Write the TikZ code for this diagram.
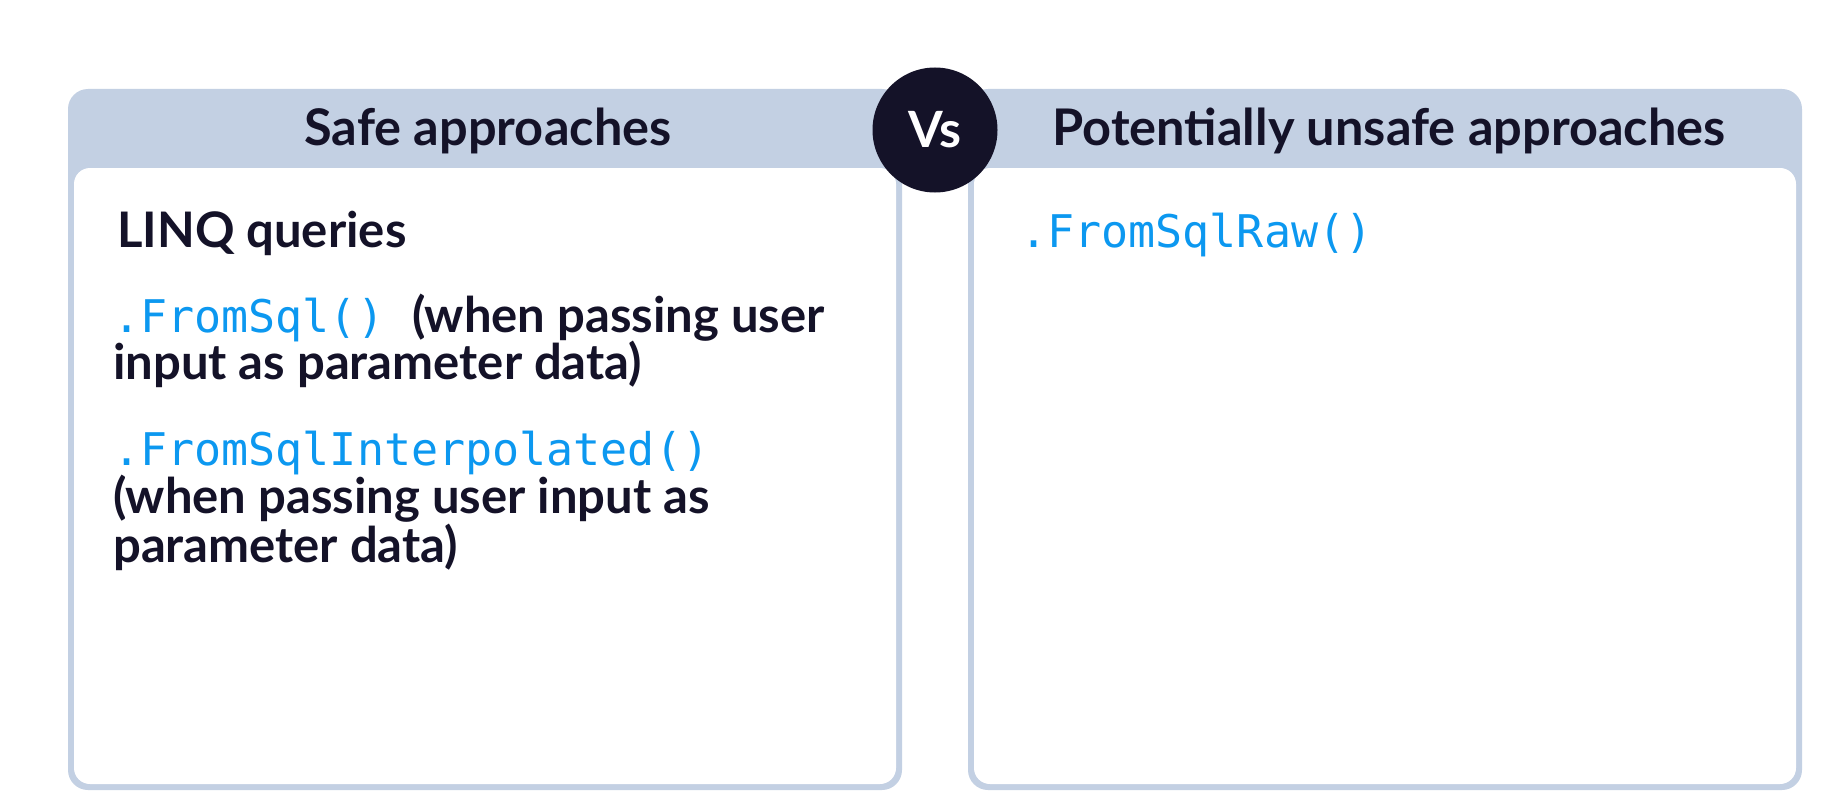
\documentclass[tikz,border=0pt]{standalone}
\usepackage{fontspec}
\setmainfont{Lato}
\setmonofont{DejaVu Sans Mono}

\definecolor{panelblue}{RGB}{195,208,227}
\definecolor{ink}{RGB}{20,18,40}
\definecolor{codeblue}{RGB}{12,152,240}

\tikzset{
  body/.style={anchor=base west, inner sep=0pt, text=ink, font=\fontsize{49}{52}\selectfont\bfseries},
  head/.style={anchor=base, inner sep=0pt, text=ink, font=\fontsize{50.5}{54}\selectfont\bfseries},
}
\newcommand{\sqlcall}[1]{\textcolor{codeblue}{\mdseries\ttfamily\fontsize{45}{48}\selectfont #1}}

\begin{document}
\begin{tikzpicture}[x=1pt,y=-1pt]

\useasboundingbox (0,0) rectangle (1839,797);
\fill[white] (0,0) rectangle (1839,797);

% left panel
\fill[panelblue,rounded corners=20pt] (68,89) rectangle (902,790);
\fill[white,rounded corners=16pt] (74,168) rectangle (896,784);

% right panel
\fill[panelblue,rounded corners=20pt] (968,89) rectangle (1802,790);
\fill[white,rounded corners=16pt] (974,168) rectangle (1796,784);

\node[head] (safe) at (488,146) {Safe approaches};
\node[head] (unsafe) at (1389,146) {Potentially unsafe approaches};

\node[circle,fill=ink,minimum size=125pt,inner sep=0pt,text=white,
      font=\fontsize{50}{52}\selectfont\bfseries] (vs) at (935,130) {Vs};

% safe
\node[body] (linq) at (117,247) {LINQ queries};
\node[body] (fromsql) at (113,332) {\sqlcall{.FromSql()}\hspace{28pt}(when passing user};
\node[body] (fromsqlb) at (113,379) {input as parameter data)};
\node[body] (interp) at (113,465) {\sqlcall{.FromSqlInterpolated()}};
\node[body] (interpb) at (113,513) {(when passing user input as};
\node[body] (interpc) at (113,562) {parameter data)};

% unsafe
\node[body] (raw) at (1020,247) {\sqlcall{.FromSqlRaw()}};

\end{tikzpicture}
\end{document}
